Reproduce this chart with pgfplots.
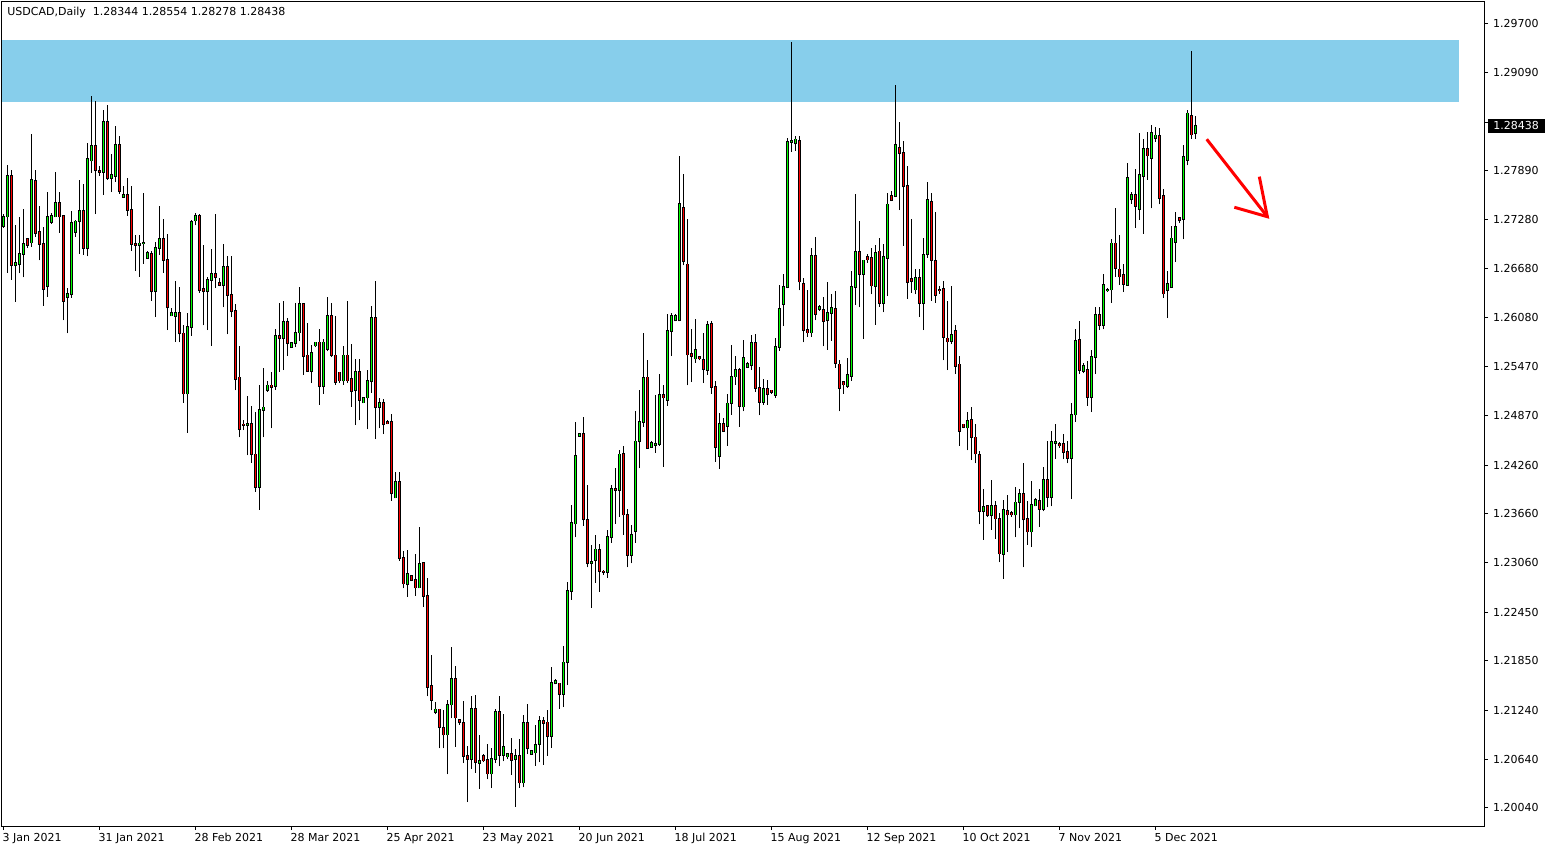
\documentclass[border=0pt]{standalone}
\usepackage{fontspec}
\setmainfont{DejaVu Sans}
\usepackage{pgfplots}
\pgfplotsset{compat=1.18}
\usepackage{pgfplotstable}
\definecolor{zone}{RGB}{135,206,235}
\definecolor{bull}{RGB}{0,255,0}
\definecolor{bear}{RGB}{255,0,0}

\pgfplotstableread{
k o h l c
0 1.2720 1.2735 1.2718 1.2732
1 1.2732 1.2796 1.2663 1.2782
2 1.2782 1.2789 1.2654 1.2672
3 1.2672 1.2722 1.2627 1.2675
4 1.2673 1.2732 1.2662 1.2686
5 1.2686 1.2741 1.2657 1.2698
6 1.2704 1.2706 1.2693 1.2697
7 1.2700 1.2834 1.2695 1.2777
8 1.2776 1.2789 1.2707 1.2712
9 1.2713 1.2745 1.2678 1.2698
10 1.2698 1.2719 1.2622 1.2643
11 1.2646 1.2762 1.2633 1.2732
12 1.2725 1.2736 1.2723 1.2733
13 1.2732 1.2787 1.2731 1.2749
14 1.2749 1.2762 1.2712 1.2732
15 1.2733 1.2734 1.2604 1.2628
16 1.2633 1.2644 1.2588 1.2637
17 1.2636 1.2739 1.2632 1.2724
18 1.2713 1.2728 1.2707 1.2726
19 1.2726 1.2777 1.2686 1.2739
20 1.2739 1.2772 1.2685 1.2693
21 1.2693 1.2822 1.2683 1.2803
22 1.2801 1.2880 1.2786 1.2819
23 1.2819 1.2874 1.2735 1.2789
24 1.2788 1.2794 1.2782 1.2787
25 1.2787 1.2863 1.2759 1.2849
26 1.2849 1.2869 1.2777 1.2779
27 1.2779 1.2809 1.2762 1.2783
28 1.2782 1.2844 1.2775 1.2820
29 1.2820 1.2831 1.2760 1.2763
30 1.2756 1.2769 1.2755 1.2759
31 1.2759 1.2780 1.2733 1.2740
32 1.2740 1.2770 1.2690 1.2698
33 1.2698 1.2709 1.2665 1.2697
34 1.2697 1.2709 1.2658 1.2699
35 1.2699 1.2761 1.2674 1.2700
36 1.2681 1.2690 1.2680 1.2687
37 1.2686 1.2690 1.2628 1.2640
38 1.2640 1.2701 1.2608 1.2693
39 1.2693 1.2745 1.2685 1.2704
40 1.2704 1.2729 1.2663 1.2678
41 1.2679 1.2711 1.2592 1.2620
42 1.2610 1.2619 1.2609 1.2613
43 1.2609 1.2653 1.2578 1.2613
44 1.2613 1.2645 1.2577 1.2588
45 1.2588 1.2598 1.2503 1.2514
46 1.2514 1.2613 1.2466 1.2596
47 1.2596 1.2728 1.2585 1.2725
48 1.2727 1.2736 1.2721 1.2733
49 1.2733 1.2735 1.2638 1.2641
50 1.2643 1.2697 1.2598 1.2640
51 1.2640 1.2658 1.2592 1.2654
52 1.2654 1.2692 1.2573 1.2661
53 1.2661 1.2735 1.2644 1.2657
54 1.2650 1.2656 1.2646 1.2648
55 1.2648 1.2698 1.2620 1.2670
56 1.2670 1.2683 1.2587 1.2635
57 1.2635 1.2683 1.2608 1.2616
58 1.2616 1.2624 1.2518 1.2532
59 1.2534 1.2572 1.2460 1.2470
60 1.2476 1.2482 1.2469 1.2475
61 1.2475 1.2511 1.2438 1.2477
62 1.2477 1.2499 1.2429 1.2439
63 1.2439 1.2491 1.2393 1.2399
64 1.2399 1.2525 1.2371 1.2494
65 1.2494 1.2545 1.2460 1.2497
66 1.2518 1.2530 1.2516 1.2524
67 1.2524 1.2540 1.2471 1.2522
68 1.2523 1.2593 1.2519 1.2585
69 1.2585 1.2625 1.2541 1.2582
70 1.2582 1.2628 1.2543 1.2602
71 1.2602 1.2607 1.2560 1.2576
72 1.2571 1.2577 1.2570 1.2576
73 1.2576 1.2626 1.2571 1.2589
74 1.2589 1.2645 1.2579 1.2624
75 1.2624 1.2625 1.2537 1.2560
76 1.2561 1.2601 1.2541 1.2542
77 1.2542 1.2574 1.2527 1.2564
78 1.2573 1.2578 1.2571 1.2577
79 1.2577 1.2593 1.2500 1.2523
80 1.2523 1.2581 1.2514 1.2577
81 1.2569 1.2633 1.2566 1.2610
82 1.2610 1.2626 1.2559 1.2561
83 1.2561 1.2610 1.2525 1.2528
84 1.2540 1.2541 1.2527 1.2530
85 1.2530 1.2573 1.2525 1.2561
86 1.2561 1.2628 1.2527 1.2530
87 1.2532 1.2575 1.2498 1.2517
88 1.2518 1.2556 1.2475 1.2541
89 1.2541 1.2557 1.2481 1.2506
90 1.2503 1.2510 1.2502 1.2509
91 1.2509 1.2543 1.2470 1.2530
92 1.2529 1.2622 1.2515 1.2607
93 1.2607 1.2653 1.2458 1.2497
94 1.2497 1.2508 1.2471 1.2503
95 1.2503 1.2507 1.2464 1.2476
96 1.2479 1.2482 1.2476 1.2477
97 1.2479 1.2489 1.2382 1.2391
98 1.2386 1.2418 1.2385 1.2405
99 1.2405 1.2417 1.2308 1.2311
100 1.2312 1.2320 1.2274 1.2280
101 1.2279 1.2321 1.2264 1.2292
102 1.2289 1.2290 1.2283 1.2284
103 1.2285 1.2317 1.2265 1.2275
104 1.2275 1.2350 1.2274 1.2304
105 1.2305 1.2307 1.2251 1.2265
106 1.2265 1.2287 1.2141 1.2153
107 1.2154 1.2192 1.2124 1.2137
108 1.2122 1.2134 1.2119 1.2125
109 1.2125 1.2126 1.2077 1.2103
110 1.2102 1.2124 1.2077 1.2094
111 1.2094 1.2137 1.2045 1.2131
112 1.2131 1.2202 1.2114 1.2163
113 1.2163 1.2178 1.2079 1.2115
114 1.2112 1.2113 1.2106 1.2109
115 1.2108 1.2135 1.2059 1.2068
116 1.2068 1.2080 1.2011 1.2064
117 1.2064 1.2142 1.2052 1.2126
118 1.2126 1.2143 1.2047 1.2060
119 1.2059 1.2094 1.2027 1.2062
120 1.2068 1.2070 1.2060 1.2062
121 1.2063 1.2083 1.2039 1.2046
122 1.2046 1.2077 1.2028 1.2064
123 1.2064 1.2126 1.2059 1.2122
124 1.2122 1.2141 1.2055 1.2069
125 1.2069 1.2119 1.2061 1.2079
126 1.2067 1.2071 1.2064 1.2070
127 1.2070 1.2090 1.2044 1.2063
128 1.2064 1.2076 1.2005 1.2068
129 1.2068 1.2089 1.2028 1.2035
130 1.2035 1.2118 1.2029 1.2108
131 1.2108 1.2132 1.2070 1.2077
132 1.2070 1.2075 1.2069 1.2074
133 1.2072 1.2106 1.2056 1.2081
134 1.2082 1.2117 1.2060 1.2111
135 1.2111 1.2116 1.2057 1.2108
136 1.2109 1.2124 1.2068 1.2092
137 1.2092 1.2177 1.2078 1.2158
138 1.2157 1.2162 1.2156 1.2160
139 1.2157 1.2158 1.2126 1.2144
140 1.2144 1.2203 1.2128 1.2183
141 1.2183 1.2282 1.2155 1.2271
142 1.2271 1.2377 1.2260 1.2355
143 1.2354 1.2479 1.2337 1.2437
144 1.2462 1.2466 1.2461 1.2464
145 1.2464 1.2485 1.2351 1.2359
146 1.2358 1.2401 1.2300 1.2305
147 1.2305 1.2328 1.2250 1.2307
148 1.2309 1.2340 1.2281 1.2322
149 1.2321 1.2329 1.2270 1.2295
150 1.2295 1.2297 1.2291 1.2294
151 1.2294 1.2346 1.2287 1.2337
152 1.2337 1.2401 1.2330 1.2397
153 1.2397 1.2422 1.2354 1.2395
154 1.2395 1.2445 1.2362 1.2439
155 1.2440 1.2449 1.2340 1.2365
156 1.2365 1.2372 1.2300 1.2315
157 1.2315 1.2352 1.2305 1.2340
158 1.2345 1.2493 1.2330 1.2455
159 1.2455 1.2518 1.2422 1.2479
160 1.2479 1.2589 1.2473 1.2533
161 1.2534 1.2555 1.2446 1.2447
162 1.2448 1.2456 1.2447 1.2453
163 1.2451 1.2512 1.2441 1.2452
164 1.2452 1.2538 1.2450 1.2512
165 1.2512 1.2525 1.2424 1.2509
166 1.2506 1.2612 1.2499 1.2591
167 1.2591 1.2613 1.2560 1.2610
168 1.2604 1.2612 1.2603 1.2610
169 1.2604 1.2807 1.2603 1.2748
170 1.2743 1.2784 1.2672 1.2677
171 1.2673 1.2729 1.2524 1.2562
172 1.2563 1.2594 1.2528 1.2560
173 1.2557 1.2606 1.2552 1.2568
174 1.2559 1.2560 1.2555 1.2557
175 1.2555 1.2589 1.2527 1.2544
176 1.2543 1.2603 1.2537 1.2599
177 1.2600 1.2603 1.2514 1.2522
178 1.2522 1.2530 1.2430 1.2448
179 1.2437 1.2490 1.2421 1.2477
180 1.2477 1.2484 1.2467 1.2468
181 1.2474 1.2513 1.2450 1.2502
182 1.2502 1.2574 1.2488 1.2535
183 1.2535 1.2560 1.2525 1.2543
184 1.2543 1.2545 1.2473 1.2499
185 1.2498 1.2580 1.2492 1.2558
186 1.2547 1.2553 1.2546 1.2551
187 1.2549 1.2586 1.2543 1.2576
188 1.2576 1.2587 1.2516 1.2521
189 1.2521 1.2547 1.2487 1.2504
190 1.2504 1.2532 1.2500 1.2520
191 1.2520 1.2531 1.2500 1.2513
192 1.2518 1.2519 1.2514 1.2516
193 1.2512 1.2582 1.2509 1.2571
194 1.2571 1.2648 1.2567 1.2618
195 1.2624 1.2661 1.2597 1.2645
196 1.2645 1.2829 1.2644 1.2824
197 1.2824 1.2947 1.2812 1.2825
198 1.2822 1.2831 1.2813 1.2827
199 1.2825 1.2831 1.2641 1.2652
200 1.2649 1.2656 1.2577 1.2592
201 1.2592 1.2642 1.2584 1.2589
202 1.2589 1.2693 1.2584 1.2684
203 1.2684 1.2707 1.2604 1.2612
204 1.2618 1.2623 1.2616 1.2621
205 1.2617 1.2633 1.2572 1.2603
206 1.2604 1.2651 1.2568 1.2613
207 1.2613 1.2636 1.2579 1.2619
208 1.2618 1.2640 1.2546 1.2552
209 1.2550 1.2555 1.2492 1.2521
210 1.2528 1.2529 1.2514 1.2525
211 1.2523 1.2558 1.2521 1.2537
212 1.2536 1.2665 1.2530 1.2645
213 1.2645 1.2760 1.2623 1.2688
214 1.2688 1.2727 1.2620 1.2661
215 1.2661 1.2679 1.2581 1.2678
216 1.2682 1.2686 1.2675 1.2679
217 1.2681 1.2693 1.2636 1.2647
218 1.2646 1.2697 1.2599 1.2687
219 1.2689 1.2706 1.2621 1.2625
220 1.2625 1.2698 1.2614 1.2682
221 1.2681 1.2761 1.2634 1.2747
222 1.2757 1.2764 1.2751 1.2752
223 1.2757 1.2894 1.2756 1.2820
224 1.2817 1.2848 1.2740 1.2810
225 1.2810 1.2825 1.2696 1.2769
226 1.2770 1.2794 1.2631 1.2651
227 1.2655 1.2729 1.2638 1.2653
228 1.2642 1.2667 1.2636 1.2656
229 1.2656 1.2668 1.2608 1.2625
230 1.2625 1.2705 1.2592 1.2685
231 1.2686 1.2774 1.2681 1.2752
232 1.2750 1.2761 1.2628 1.2678
233 1.2677 1.2738 1.2626 1.2635
234 1.2642 1.2646 1.2637 1.2641
235 1.2643 1.2653 1.2555 1.2584
236 1.2582 1.2628 1.2543 1.2578
237 1.2579 1.2647 1.2575 1.2586
238 1.2591 1.2599 1.2538 1.2548
239 1.2550 1.2560 1.2450 1.2468
240 1.2476 1.2477 1.2471 1.2473
241 1.2472 1.2491 1.2444 1.2480
242 1.2482 1.2497 1.2432 1.2460
243 1.2460 1.2477 1.2428 1.2440
244 1.2438 1.2443 1.2353 1.2369
245 1.2369 1.2396 1.2334 1.2374
246 1.2376 1.2377 1.2362 1.2364
247 1.2364 1.2408 1.2346 1.2376
248 1.2376 1.2382 1.2335 1.2360
249 1.2360 1.2367 1.2306 1.2317
250 1.2316 1.2383 1.2286 1.2371
251 1.2370 1.2389 1.2319 1.2365
252 1.2367 1.2369 1.2362 1.2365
253 1.2365 1.2399 1.2337 1.2380
254 1.2380 1.2396 1.2348 1.2390
255 1.2390 1.2429 1.2300 1.2359
256 1.2360 1.2382 1.2328 1.2344
257 1.2344 1.2406 1.2325 1.2377
258 1.2376 1.2385 1.2375 1.2383
259 1.2382 1.2397 1.2350 1.2372
260 1.2372 1.2424 1.2369 1.2408
261 1.2408 1.2456 1.2374 1.2387
262 1.2387 1.2468 1.2375 1.2454
263 1.2453 1.2477 1.2434 1.2454
264 1.2452 1.2454 1.2447 1.2450
265 1.2452 1.2464 1.2433 1.2442
266 1.2442 1.2455 1.2428 1.2435
267 1.2435 1.2503 1.2384 1.2488
268 1.2488 1.2594 1.2479 1.2579
269 1.2580 1.2603 1.2538 1.2543
270 1.2542 1.2552 1.2539 1.2548
271 1.2543 1.2554 1.2499 1.2510
272 1.2510 1.2568 1.2491 1.2559
273 1.2559 1.2621 1.2538 1.2611
274 1.2611 1.2621 1.2592 1.2598
275 1.2598 1.2661 1.2593 1.2648
276 1.2641 1.2644 1.2639 1.2642
277 1.2642 1.2704 1.2626 1.2699
278 1.2699 1.2743 1.2658 1.2669
279 1.2667 1.2709 1.2648 1.2658
280 1.2660 1.2674 1.2639 1.2649
281 1.2648 1.2798 1.2647 1.2780
282 1.2753 1.2762 1.2748 1.2759
283 1.2759 1.2791 1.2718 1.2745
284 1.2741 1.2835 1.2728 1.2783
285 1.2782 1.2828 1.2711 1.2815
286 1.2815 1.2836 1.2777 1.2807
287 1.2804 1.2845 1.2742 1.2835
288 1.2829 1.2842 1.2824 1.2832
289 1.2831 1.2841 1.2747 1.2755
290 1.2757 1.2766 1.2632 1.2637
291 1.2641 1.2665 1.2607 1.2649
292 1.2645 1.2720 1.2644 1.2705
293 1.2701 1.2737 1.2676 1.2719
294 1.2730 1.2731 1.2724 1.2728
295 1.2729 1.2820 1.2704 1.2805
296 1.2802 1.2863 1.2795 1.2859
297 1.2856 1.2936 1.2828 1.2833
298 1.28344 1.28554 1.28278 1.28438
}\candles

\begin{document}
\begin{tikzpicture}[x=1pt,y=1pt]
\path[use as bounding box] (0,0) rectangle (775,425);
\begin{axis}[
  at={(1pt,12pt)}, anchor=south west,
  scale only axis, width=741pt, height=412pt,
  xmin=-0.375, xmax=370.125, ymin=1.19815, ymax=1.29962,
  axis line style={line width=0.5pt, black},
  tick align=outside, major tick length=2pt,
  tick style={line width=0.5pt, black},
  xtick pos=bottom, ytick pos=right, yticklabel pos=right,
  xtick={0,24,48,72,96,120,144,168,192,216,240,264,288},
  xticklabels={3 Jan 2021,31 Jan 2021,28 Feb 2021,28 Mar 2021,25 Apr 2021,23 May 2021,20 Jun 2021,18 Jul 2021,15 Aug 2021,12 Sep 2021,10 Oct 2021,7 Nov 2021,5 Dec 2021},
  ytick={1.2970,1.2909,1.2848,1.2789,1.2728,1.2668,1.2608,1.2547,1.2487,1.2426,1.2366,1.2306,1.2245,1.2185,1.2124,1.2064,1.2004},
  yticklabels={1.29700,1.29090,{},1.27890,1.27280,1.26680,1.26080,1.25470,1.24870,1.24260,1.23660,1.23060,1.22450,1.21850,1.21240,1.20640,1.20040},
  tick label style={font=\fontsize{5.5pt}{6.6pt}\selectfont, inner sep=0pt},
  xticklabel style={anchor=north west, xshift=-0.6pt, yshift=-1.4pt},
  yticklabel style={anchor=west, xshift=2.4pt},
  scaled y ticks=false, scaled x ticks=false,
  clip=true,
]
\fill[zone] (axis cs:-0.375,1.28735) rectangle (axis cs:363.8,1.29494);

% wicks
\addplot[draw=none, mark=none, forget plot,
  error bars/.cd, y dir=plus, y explicit, error mark=none,
  error bar style={line width=0.5pt, draw=black}]
  table[x=k, y=l, y error plus expr={\thisrow{h}-\thisrow{l}}] {\candles};
% body outlines
\addplot[draw=none, mark=none, forget plot,
  error bars/.cd, y dir=plus, y explicit, error mark=none,
  error bar style={line width=1.5pt, draw=black}]
  table[x=k, y expr={min(\thisrow{o},\thisrow{c})-0.0001},
        y error plus expr={abs(\thisrow{c}-\thisrow{o})+0.0002}] {\candles};
% bullish fill
\addplot[draw=none, mark=none, forget plot,
  error bars/.cd, y dir=plus, y explicit, error mark=none,
  error bar style={line width=0.7pt, draw=bull}]
  table[x=k, y=o, y error plus expr={max(\thisrow{c}-\thisrow{o},0)}] {\candles};
% bearish fill
\addplot[draw=none, mark=none, forget plot,
  error bars/.cd, y dir=plus, y explicit, error mark=none,
  error bar style={line width=0.7pt, draw=bear}]
  table[x=k, y=c, y error plus expr={max(\thisrow{o}-\thisrow{c},0)}] {\candles};

% red arrow
\draw[bear, line width=1.5pt] (axis cs:300.8,1.28272) -- (axis cs:315.95,1.27318);
\draw[bear, line width=1.5pt, line join=miter] (axis cs:307.7,1.27434) -- (axis cs:315.95,1.27318) -- (axis cs:313.95,1.27811);

\node[anchor=west, inner sep=0pt, font=\fontsize{5.5pt}{6.6pt}\selectfont]
  at (rel axis cs:0,1) [xshift=2.5pt, yshift=-5pt] {USDCAD,Daily\ \ 1.28344 1.28554 1.28278 1.28438};
\end{axis}
% current price label on the price scale
\begin{axis}[
  at={(1pt,12pt)}, anchor=south west,
  scale only axis, width=741pt, height=412pt,
  xmin=-0.375, xmax=370.125, ymin=1.19815, ymax=1.29962,
  hide axis, clip=false,
]
\node[fill=black, text=white, anchor=west, inner xsep=2.9pt, inner ysep=0pt,
  minimum height=7.2pt, font=\fontsize{5.5pt}{6.6pt}\selectfont]
  at (axis cs:370.125,1.28438) [xshift=1.6pt] {1.28438};
\end{axis}
\end{tikzpicture}
\end{document}
